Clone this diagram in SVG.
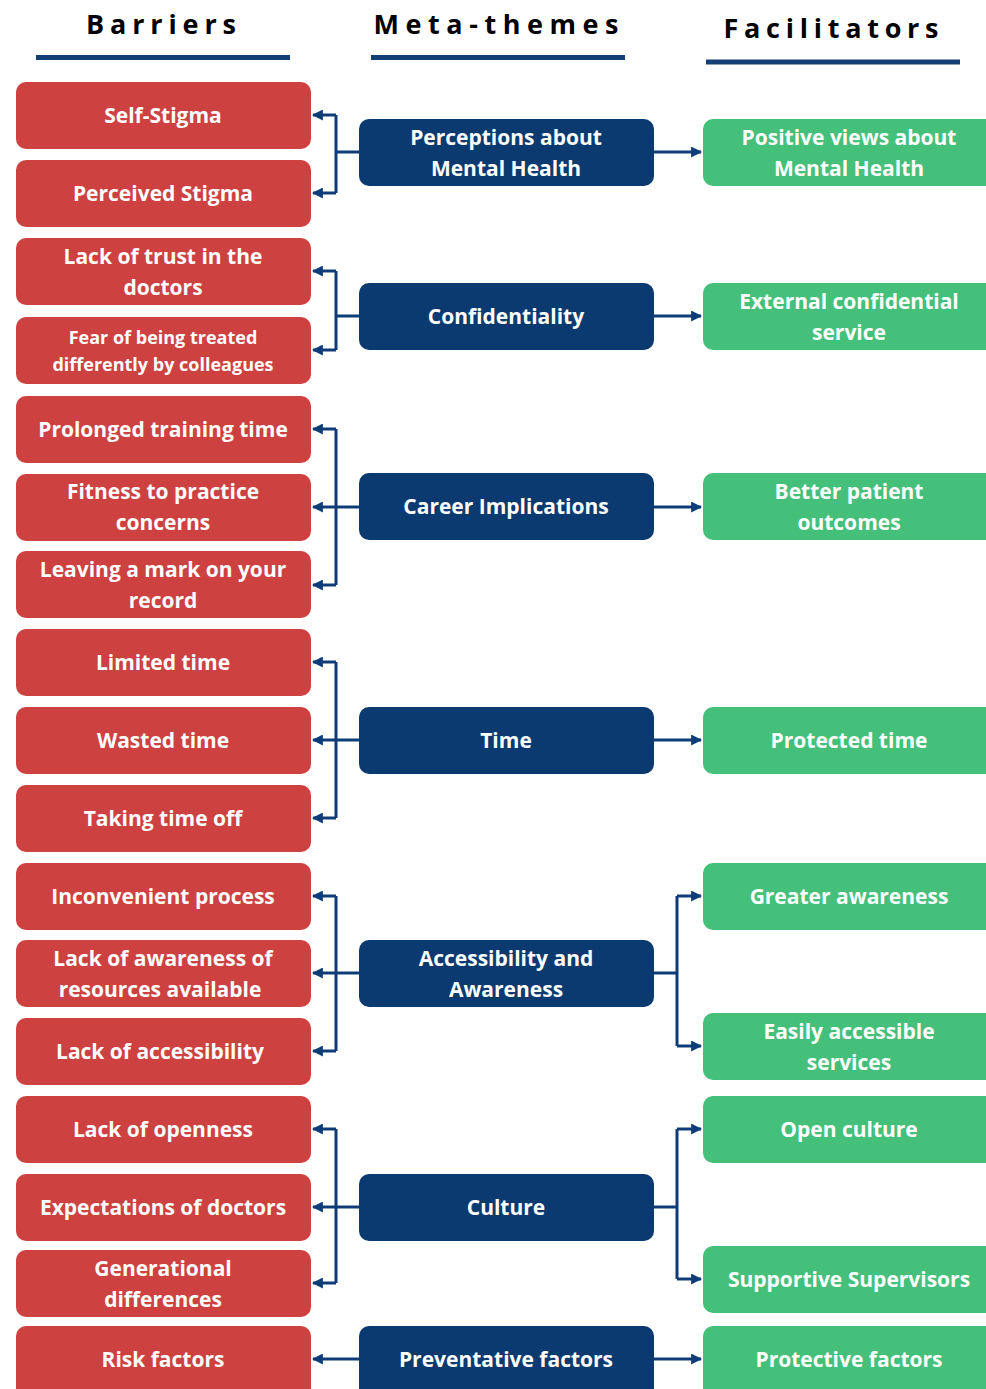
<svg xmlns="http://www.w3.org/2000/svg" width="986" height="1389" viewBox="0 0 986 1389">
  <style>
    .hdr { font-family: "Open Sans", Lato, sans-serif; font-weight: 700; font-size: 27px; fill: #000; text-anchor: middle; }
    .rule { stroke: #123f75; stroke-width: 5; }
    .bar { fill: #cd4141; }
    .meta { fill: #0b3a70; }
    .fac { fill: #45c07a; }
    .t { font-family: "Open Sans", Lato, sans-serif; font-weight: 700; font-size: 21px; fill: #fff; text-anchor: middle; }
    .ts { font-size: 18px; }
    .wire { fill: none; stroke: #0e3c78; stroke-width: 3; }
  </style>
  <defs>
    <marker id="head" viewBox="0 0 10 10" refX="9" refY="5" markerWidth="11" markerHeight="11" markerUnits="userSpaceOnUse" orient="auto">
      <path d="M0,0 L10,5 L0,10 z" fill="#0e3c78"/>
    </marker>
  </defs>
  <rect width="986" height="1389" fill="#fff"/>

  <!-- column headings -->
  <g id="headings">
    <text class="hdr" x="161" y="34" textLength="150" lengthAdjust="spacing">Barriers</text>
    <line class="rule" x1="36" y1="57.5" x2="290" y2="57.5"/>
    <text class="hdr" x="496" y="34" textLength="245" lengthAdjust="spacing">Meta-themes</text>
    <line class="rule" x1="371" y1="57.5" x2="625" y2="57.5"/>
    <text class="hdr" x="831" y="38" textLength="215" lengthAdjust="spacing">Facilitators</text>
    <line class="rule" x1="706" y1="62" x2="960" y2="62"/>
  </g>

  <!-- barriers -->
  <g id="b-self-stigma"><rect class="bar" x="16" y="82" width="295" height="67" rx="10"/><text class="t" x="163" y="123">Self-Stigma</text></g>
  <g id="b-perceived-stigma"><rect class="bar" x="16" y="160" width="295" height="67" rx="10"/><text class="t" x="163" y="201">Perceived Stigma</text></g>
  <g id="b-lack-of-trust"><rect class="bar" x="16" y="238" width="295" height="67" rx="10"/><text class="t" x="163" y="264">Lack of trust in the</text><text class="t" x="163" y="295">doctors</text></g>
  <g id="b-fear"><rect class="bar" x="16" y="317" width="295" height="67" rx="10"/><text class="t ts" x="163" y="344">Fear of being treated</text><text class="t ts" x="163" y="371">differently by colleagues</text></g>
  <g id="b-prolonged"><rect class="bar" x="16" y="396" width="295" height="67" rx="10"/><text class="t" x="163" y="437">Prolonged training time</text></g>
  <g id="b-fitness"><rect class="bar" x="16" y="474" width="295" height="67" rx="10"/><text class="t" x="163" y="499">Fitness to practice</text><text class="t" x="163" y="530">concerns</text></g>
  <g id="b-record"><rect class="bar" x="16" y="551" width="295" height="67" rx="10"/><text class="t" x="163" y="577">Leaving a mark on your</text><text class="t" x="163" y="608">record</text></g>
  <g id="b-limited-time"><rect class="bar" x="16" y="629" width="295" height="67" rx="10"/><text class="t" x="163" y="670">Limited time</text></g>
  <g id="b-wasted-time"><rect class="bar" x="16" y="707" width="295" height="67" rx="10"/><text class="t" x="163" y="748">Wasted time</text></g>
  <g id="b-time-off"><rect class="bar" x="16" y="785" width="295" height="67" rx="10"/><text class="t" x="163" y="826">Taking time off</text></g>
  <g id="b-inconvenient"><rect class="bar" x="16" y="863" width="295" height="67" rx="10"/><text class="t" x="163" y="904">Inconvenient process</text></g>
  <g id="b-awareness"><rect class="bar" x="16" y="940" width="295" height="67" rx="10"/><text class="t" x="163" y="966">Lack of awareness of</text><text class="t" x="160" y="997">resources available</text></g>
  <g id="b-accessibility"><rect class="bar" x="16" y="1018" width="295" height="67" rx="10"/><text class="t" x="160" y="1059">Lack of accessibility</text></g>
  <g id="b-openness"><rect class="bar" x="16" y="1096" width="295" height="67" rx="10"/><text class="t" x="163" y="1137">Lack of openness</text></g>
  <g id="b-expectations"><rect class="bar" x="16" y="1174" width="295" height="67" rx="10"/><text class="t" x="163" y="1215">Expectations of doctors</text></g>
  <g id="b-generational"><rect class="bar" x="16" y="1250" width="295" height="67" rx="10"/><text class="t" x="163" y="1276">Generational</text><text class="t" x="163" y="1307">differences</text></g>
  <g id="b-risk"><rect class="bar" x="16" y="1326" width="295" height="80" rx="10"/><text class="t" x="163" y="1367">Risk factors</text></g>

  <!-- meta-themes -->
  <g id="m-perceptions"><rect class="meta" x="359" y="119" width="295" height="67" rx="10"/><text class="t" x="506" y="145">Perceptions about</text><text class="t" x="506" y="176">Mental Health</text></g>
  <g id="m-confidentiality"><rect class="meta" x="359" y="283" width="295" height="67" rx="10"/><text class="t" x="506" y="324">Confidentiality</text></g>
  <g id="m-career"><rect class="meta" x="359" y="473" width="295" height="67" rx="10"/><text class="t" x="506" y="514">Career Implications</text></g>
  <g id="m-time"><rect class="meta" x="359" y="707" width="295" height="67" rx="10"/><text class="t" x="506" y="748">Time</text></g>
  <g id="m-access"><rect class="meta" x="359" y="940" width="295" height="67" rx="10"/><text class="t" x="506" y="966">Accessibility and</text><text class="t" x="506" y="997">Awareness</text></g>
  <g id="m-culture"><rect class="meta" x="359" y="1174" width="295" height="67" rx="10"/><text class="t" x="506" y="1215">Culture</text></g>
  <g id="m-preventative"><rect class="meta" x="359" y="1326" width="295" height="80" rx="10"/><text class="t" x="506" y="1367">Preventative factors</text></g>

  <!-- facilitators -->
  <g id="f-positive"><rect class="fac" x="703" y="119" width="300" height="67" rx="10"/><text class="t" x="849" y="145">Positive views about</text><text class="t" x="849" y="176">Mental Health</text></g>
  <g id="f-external"><rect class="fac" x="703" y="283" width="300" height="67" rx="10"/><text class="t" x="849" y="309">External confidential</text><text class="t" x="849" y="340">service</text></g>
  <g id="f-outcomes"><rect class="fac" x="703" y="473" width="300" height="67" rx="10"/><text class="t" x="849" y="499">Better patient</text><text class="t" x="849" y="530">outcomes</text></g>
  <g id="f-protected"><rect class="fac" x="703" y="707" width="300" height="67" rx="10"/><text class="t" x="849" y="748">Protected time</text></g>
  <g id="f-greater"><rect class="fac" x="703" y="863" width="300" height="67" rx="10"/><text class="t" x="849" y="904">Greater awareness</text></g>
  <g id="f-easily"><rect class="fac" x="703" y="1013" width="300" height="67" rx="10"/><text class="t" x="849" y="1039">Easily accessible</text><text class="t" x="849" y="1070">services</text></g>
  <g id="f-open"><rect class="fac" x="703" y="1096" width="300" height="67" rx="10"/><text class="t" x="849" y="1137">Open culture</text></g>
  <g id="f-supervisors"><rect class="fac" x="703" y="1246" width="300" height="67" rx="10"/><text class="t" x="849" y="1287">Supportive Supervisors</text></g>
  <g id="f-protective"><rect class="fac" x="703" y="1326" width="300" height="80" rx="10"/><text class="t" x="849" y="1367">Protective factors</text></g>

  <!-- connectors -->
  <g id="connectors">
    <!-- meta-theme to barriers -->
    <path class="wire" d="M359 152 H336 M336 115 V193"/>
    <path class="wire" d="M336 115 H313" marker-end="url(#head)"/>
    <path class="wire" d="M336 193 H313" marker-end="url(#head)"/>

    <path class="wire" d="M359 316 H336 M336 271 V350"/>
    <path class="wire" d="M336 271 H313" marker-end="url(#head)"/>
    <path class="wire" d="M336 350 H313" marker-end="url(#head)"/>

    <path class="wire" d="M359 507 H336 M336 429 V585"/>
    <path class="wire" d="M336 429 H313" marker-end="url(#head)"/>
    <path class="wire" d="M336 507 H313" marker-end="url(#head)"/>
    <path class="wire" d="M336 585 H313" marker-end="url(#head)"/>

    <path class="wire" d="M359 740 H336 M336 662 V818"/>
    <path class="wire" d="M336 662 H313" marker-end="url(#head)"/>
    <path class="wire" d="M336 740 H313" marker-end="url(#head)"/>
    <path class="wire" d="M336 818 H313" marker-end="url(#head)"/>

    <path class="wire" d="M359 973 H336 M336 896 V1051"/>
    <path class="wire" d="M336 896 H313" marker-end="url(#head)"/>
    <path class="wire" d="M336 973 H313" marker-end="url(#head)"/>
    <path class="wire" d="M336 1051 H313" marker-end="url(#head)"/>

    <path class="wire" d="M359 1207 H336 M336 1129 V1283"/>
    <path class="wire" d="M336 1129 H313" marker-end="url(#head)"/>
    <path class="wire" d="M336 1207 H313" marker-end="url(#head)"/>
    <path class="wire" d="M336 1283 H313" marker-end="url(#head)"/>

    <path class="wire" d="M359 1359 H313" marker-end="url(#head)"/>

    <!-- meta-theme to facilitators -->
    <path class="wire" d="M654 152 H701" marker-end="url(#head)"/>
    <path class="wire" d="M654 316 H701" marker-end="url(#head)"/>
    <path class="wire" d="M654 507 H701" marker-end="url(#head)"/>
    <path class="wire" d="M654 740 H701" marker-end="url(#head)"/>

    <path class="wire" d="M654 973 H677 M677 896 V1046"/>
    <path class="wire" d="M677 896 H701" marker-end="url(#head)"/>
    <path class="wire" d="M677 1046 H701" marker-end="url(#head)"/>

    <path class="wire" d="M654 1207 H677 M677 1129 V1279"/>
    <path class="wire" d="M677 1129 H701" marker-end="url(#head)"/>
    <path class="wire" d="M677 1279 H701" marker-end="url(#head)"/>

    <path class="wire" d="M654 1359 H701" marker-end="url(#head)"/>
  </g>
</svg>
